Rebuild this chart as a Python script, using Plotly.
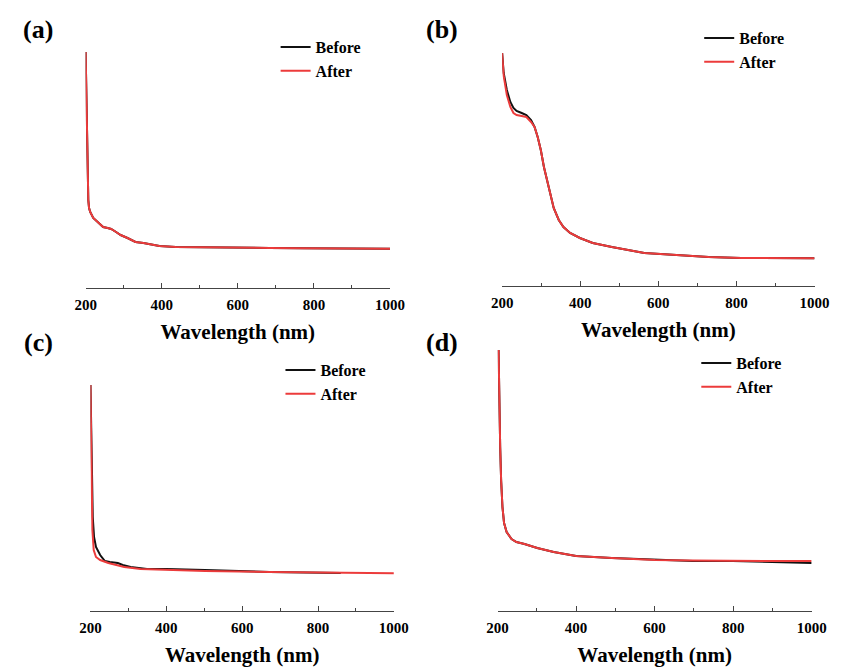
import plotly.graph_objects as go

# UV-Vis absorption spectra, four samples, before and after treatment
# wavelength in nm, absorbance in arbitrary units

# (a)
wl_a = [200, 202, 204, 207, 209, 212, 220, 233, 246, 258, 267, 280, 292, 310,
        331, 352, 394, 437, 513, 598, 683, 769, 854, 1000]
before_a = [2.36, 1.88, 1.21, 0.88, 0.80, 0.76, 0.70, 0.65, 0.61, 0.60, 0.59, 0.56, 0.53, 0.50,
            0.46, 0.45, 0.42, 0.41, 0.405, 0.403, 0.40, 0.398, 0.396, 0.393]
after_a = [2.36, 1.88, 1.21, 0.88, 0.80, 0.76, 0.70, 0.65, 0.61, 0.60, 0.59, 0.56, 0.53, 0.50,
           0.46, 0.45, 0.42, 0.41, 0.405, 0.403, 0.40, 0.398, 0.396, 0.393]

# (b)
wl_b = [200, 204, 212, 221, 229, 237, 250, 262, 274, 283, 291, 299, 307, 316,
        324, 332, 345, 357, 374, 399, 432, 481, 564, 646, 729, 812, 894, 1000]
before_b = [2.33, 2.13, 1.96, 1.84, 1.78, 1.75, 1.73, 1.71, 1.66, 1.59, 1.49, 1.36, 1.19, 1.03,
            0.89, 0.78, 0.66, 0.59, 0.53, 0.48, 0.43, 0.39, 0.33, 0.31, 0.29, 0.28, 0.28, 0.277]
after_b = [2.33, 2.10, 1.91, 1.79, 1.73, 1.71, 1.70, 1.69, 1.64, 1.59, 1.49, 1.36, 1.19, 1.03,
           0.89, 0.78, 0.66, 0.59, 0.53, 0.48, 0.43, 0.39, 0.33, 0.31, 0.29, 0.28, 0.28, 0.277]

# (c)
wl_c_before = [200, 202.6, 206, 209.4, 214.5, 225.5, 238, 251, 272, 285, 306, 349, 400, 502, 672, 860]
before_c = [2.26, 1.48, 0.94, 0.74, 0.64, 0.56, 0.50, 0.49, 0.48, 0.46, 0.44, 0.42, 0.42, 0.41, 0.39, 0.38]
wl_c_after = [200, 202.6, 205, 208.5, 214.5, 225.5, 247, 289, 332, 417, 502, 672, 842, 1000]
after_c = [2.26, 1.31, 0.81, 0.61, 0.54, 0.51, 0.48, 0.44, 0.42, 0.41, 0.40, 0.39, 0.38, 0.377]

# (d)
wl_d = [202.5, 204, 206.6, 209, 212.4, 216.5, 223, 235.5, 248, 268.5, 301, 343, 400, 491,
        601, 697, 799, 903, 1000]
before_d = [2.61, 2.14, 1.64, 1.31, 1.04, 0.88, 0.79, 0.72, 0.69, 0.67, 0.63, 0.59, 0.55, 0.53,
            0.51, 0.50, 0.50, 0.49, 0.48]
after_d = [2.61, 2.14, 1.64, 1.31, 1.04, 0.88, 0.79, 0.72, 0.69, 0.67, 0.63, 0.59, 0.55, 0.53,
           0.51, 0.505, 0.50, 0.50, 0.50]

panel_labels = ["(a)", "(b)", "(c)", "(d)"]
series_names = ["Before", "After"]
x_title = "Wavelength (nm)"
tick_vals = [200, 400, 600, 800, 1000]

W, H = 847, 667
FONT = "Liberation Serif"
BLACK = "#111111"
RED = "#ec3b3b"

# panel boxes in pixels: left, right, bottom (axis line), top, y-range max
boxes = [
    (77, 391, 288, 38, 2.5),
    (506.7, 829, 286, 38, 2.48),
    (82, 395, 611, 363, 2.48),
    (502, 826, 611, 341, 2.7),
]
# legend text start (x) and top edge (y) in pixels
legend_pos = [(313, 30), (750, 21), (318, 353), (747, 346)]
label_pos = [(28, 30), (445, 30), (28, 343), (445, 342)]

data = [
    (wl_a, before_a, wl_a, after_a),
    (wl_b, before_b, wl_b, after_b),
    (wl_c_before, before_c, wl_c_after, after_c),
    (wl_d, before_d, wl_d, after_d),
]

fig = go.Figure()
layout = dict(
    width=W, height=H,
    margin=dict(l=0, r=0, t=0, b=0),
    paper_bgcolor="white", plot_bgcolor="white",
    font=dict(family=FONT, color="black"),
    annotations=[],
)

for i, ((xb, yb, xa, ya), (l, r, b, t, ymax)) in enumerate(zip(data, boxes)):
    n = i + 1
    xs = "x" if n == 1 else f"x{n}"
    ys = "y" if n == 1 else f"y{n}"
    leg = "legend" if n == 1 else f"legend{n}"
    fig.add_trace(go.Scatter(x=xb, y=yb, mode="lines", name=series_names[0],
                             line=dict(color=BLACK, width=2), xaxis=xs, yaxis=ys,
                             legend=leg))
    fig.add_trace(go.Scatter(x=xa, y=ya, mode="lines", name=series_names[1],
                             line=dict(color=RED, width=2), xaxis=xs, yaxis=ys,
                             legend=leg))
    xa_key = "xaxis" if n == 1 else f"xaxis{n}"
    ya_key = "yaxis" if n == 1 else f"yaxis{n}"
    layout[xa_key] = dict(
        domain=[l / W, r / W], anchor=ys, range=[200, 1000],
        showline=True, linecolor="#444", linewidth=1.3, mirror=False,
        showgrid=False, zeroline=False,
        ticks="inside", ticklen=5, tickwidth=1.2, tickcolor="#444",
        tickvals=tick_vals, ticktext=[str(v) for v in tick_vals],
        ticklabelstandoff=3,
        minor=dict(ticks="inside", ticklen=3, tickwidth=1, tickcolor="#444", dtick=100,
                   tick0=300, showgrid=False),
        tickfont=dict(family=FONT, size=15, color="black", weight="bold"),
        title=dict(text=f"<b>{x_title}</b>", font=dict(family=FONT, size=21, color="black"),
                   standoff=12),
    )
    layout[ya_key] = dict(
        domain=[(H - b) / H, (H - t) / H], anchor=xs, range=[0, ymax], visible=False,
    )
    lx, ly = legend_pos[i]
    layout[leg] = dict(
        x=(lx - 40) / W, y=(H - ly) / H, xanchor="left", yanchor="top",
        bgcolor="rgba(0,0,0,0)", borderwidth=0, tracegroupgap=0,
        font=dict(family=FONT, size=16, color="black", weight="bold"),
        itemwidth=30,
    )
    px, py = label_pos[i]
    layout["annotations"].append(dict(
        text=f"<b>{panel_labels[i]}</b>", x=px / W, y=(H - py) / H,
        xref="paper", yref="paper", showarrow=False, xanchor="center", yanchor="middle",
        font=dict(family=FONT, size=26, color="black"),
    ))

fig.update_layout(**layout)
fig.write_html("out.html")
